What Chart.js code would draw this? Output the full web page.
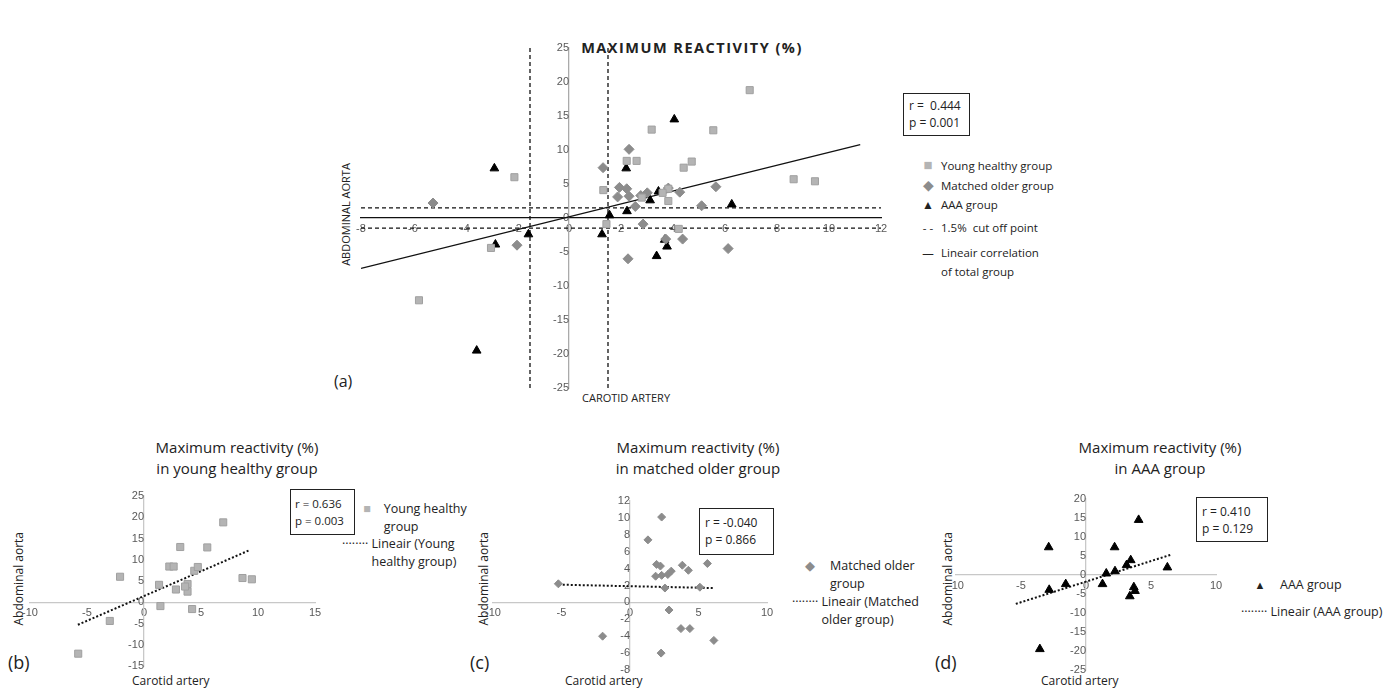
<!DOCTYPE html>
<html><head><meta charset="utf-8">
<script src="https://cdn.jsdelivr.net/npm/chart.js@4"></script>
<style>
body{margin:0;background:#fff;width:1390px;height:688px;position:relative;overflow:hidden;font-family:"Open Sans",sans-serif;color:#222}
.t{position:absolute;white-space:nowrap}
canvas{position:absolute}
.box{position:absolute;border:1.5px solid #222;font-size:12px;line-height:17px;padding:3px 5px;box-sizing:border-box;white-space:nowrap}
.rot{position:absolute;transform:rotate(-90deg);transform-origin:center;white-space:nowrap}
.ttl{position:absolute;text-align:center;font-size:15px;line-height:21px;transform:translateX(-50%);white-space:nowrap}
.m{display:inline-block;width:14px;text-align:center}
</style></head><body>
<div class="t" style="left:692px;top:38px;transform:translateX(-50%);font-weight:bold;font-size:14.5px;letter-spacing:1.5px">MAXIMUM REACTIVITY (%)</div>
<div class="rot" style="left:290px;top:207px;width:110px;text-align:center;font-size:11px">ABDOMINAL AORTA</div>
<div class="t" style="left:582px;top:390px;font-size:11px">CAROTID ARTERY</div>
<div class="t" style="left:334px;top:370px;font-size:16px">(a)</div>
<div class="box" style="left:903px;top:93px;width:67px;height:43px">r =&nbsp; 0.444<br>p = 0.001</div>
<div class="t" style="left:921px;top:155px;font-size:11.5px;line-height:19px">
<div><span class="m" style="color:#b4b4b4;font-size:15px">■</span>&nbsp; Young healthy group</div>
<div><span class="m" style="color:#8c8c8c;font-size:14px">◆</span>&nbsp; Matched older group</div>
<div><span class="m" style="font-size:12px">▲</span>&nbsp; AAA group</div>
<div style="margin-top:4px"><span class="m">- -</span>&nbsp; 1.5%&nbsp; cut off point</div>
<div style="margin-top:6px"><span class="m">—</span>&nbsp; Lineair correlation<br><span class="m"></span>&nbsp; of total group</div>
</div>

<div class="ttl" style="left:237px;top:437px">Maximum reactivity (%)<br>in young healthy group</div>
<div class="ttl" style="left:698px;top:437px">Maximum reactivity (%)<br>in matched older group</div>
<div class="ttl" style="left:1160px;top:437px">Maximum reactivity (%)<br>in AAA group</div>
<div class="rot" style="left:-27px;top:572px;width:90px;text-align:center;font-size:12px">Abdominal aorta</div>
<div class="rot" style="left:438px;top:572px;width:90px;text-align:center;font-size:12px">Abdominal aorta</div>
<div class="rot" style="left:902px;top:572px;width:90px;text-align:center;font-size:12px">Abdominal aorta</div>
<div class="t" style="left:132px;top:672px;font-size:12px">Carotid artery</div>
<div class="t" style="left:565px;top:672px;font-size:12px">Carotid artery</div>
<div class="t" style="left:1041px;top:672px;font-size:12px">Carotid artery</div>
<div class="t" style="left:8px;top:650px;font-size:18px">(b)</div>
<div class="t" style="left:470px;top:650px;font-size:18px">(c)</div>
<div class="t" style="left:935px;top:650px;font-size:18px">(d)</div>
<div class="box" style="left:290px;top:489px;width:65px;height:46px;padding:5px 4px 3px;font-size:11.5px">r = 0.636<br>p = 0.003</div>
<div class="box" style="left:699px;top:508px;width:75px;height:47px;padding-top:5px">r = -0.040<br>p = 0.866</div>
<div class="box" style="left:1196px;top:497px;width:72px;height:45px;padding-top:5px">r = 0.410<br>p = 0.129</div>
<div class="t" style="left:360px;top:500px;font-size:12.5px;line-height:18px"><span class="m" style="color:#b4b4b4">■</span>&nbsp;&nbsp; Young healthy<br><span class="m"></span>&nbsp;&nbsp; group</div>
<div class="t" style="left:342px;top:535px;font-size:12.5px;line-height:18px">········ Lineair (Young<br><span style="visibility:hidden">········ </span>healthy group)</div>
<div class="t" style="left:803px;top:557px;font-size:12.5px;line-height:18px"><span class="m" style="color:#8c8c8c">◆</span>&nbsp;&nbsp;&nbsp; Matched older<br><span class="m"></span>&nbsp;&nbsp;&nbsp; group</div>
<div class="t" style="left:792px;top:593px;font-size:12.5px;line-height:18px">········ Lineair (Matched<br><span style="visibility:hidden">········ </span>older group)</div>
<div class="t" style="left:1253px;top:576px;font-size:12.5px"><span class="m" style="font-size:11px">▲</span>&nbsp;&nbsp;&nbsp; AAA group</div>
<div class="t" style="left:1241px;top:603px;font-size:12.5px">········ Lineair (AAA group)</div>

<canvas id="ca"></canvas><canvas id="cb"></canvas><canvas id="cc"></canvas><canvas id="cd"></canvas>
<script>
const youngX=[6.95,3.18,5.55,2.22,2.6,4.41,4.72,-2.1,8.64,9.46,1.32,3.82,3.82,1.44,4.22,-3.0,-5.77,2.8,3.6];
const youngY=[18.8,13.0,12.9,8.4,8.4,7.4,8.3,6.0,5.7,5.4,4.1,4.3,2.5,-0.9,-1.6,-4.4,-12.1,3.0,3.7];
const matchedX=[-5.23,1.31,2.31,1.94,2.22,1.87,2.31,2.76,3.01,3.82,4.26,5.65,2.55,5.1,2.85,3.72,4.37,-2.0,2.27,6.12];
const matchedY=[2.2,7.4,10.1,4.5,4.3,3.1,3.2,3.3,3.7,4.4,3.8,4.6,1.7,1.8,-0.9,-3.1,-3.1,-4.0,-6.0,-4.5];
const aaaX=[-2.87,2.2,4.05,3.44,3.12,6.26,1.56,2.23,-1.56,1.27,-2.83,3.68,3.77,3.37,-3.55];
const aaaY=[7.3,7.3,14.5,3.9,2.6,2.0,0.4,1.0,-2.4,-2.4,-3.9,-3.2,-4.2,-5.6,-19.5];
const totalFitX=[-8,11.2], totalFitY=[-7.4,10.8];
const youngFitX=[-5.8,9.3], youngFitY=[-5.3,12.3];
const matchedFitX=[-5.2,6.1], matchedFitY=[2.1,1.7];
const aaaFitX=[-5.4,6.5], aaaFitY=[-7.6,5.3];
const cutoff=1.5;

const pts=(xs,ys)=>xs.map((x,i)=>({x,y:ys[i]}));
const sq={pointStyle:'rect',pointRadius:5,backgroundColor:'#b4b4b4',borderColor:'#a0a0a0',borderWidth:1};
const di={pointStyle:'rectRot',pointRadius:5,backgroundColor:'#8c8c8c',borderColor:'#8c8c8c',borderWidth:1};
const tr={pointStyle:'triangle',pointRadius:5,backgroundColor:'#000',borderColor:'#000',borderWidth:1};
const line=(xs,ys,dash,w)=>({type:'line',data:pts(xs,ys),borderColor:'#111',borderWidth:w||1.3,borderDash:dash||[],pointRadius:0,fill:false,showLine:true});
const PAD=25;
function mk(id,L,T,W,H,xr,yr,ds,axisCol,xCol,font){
  const c=document.getElementById(id);
  c.width=W+2*PAD;c.height=H+2*PAD;
  c.style.left=(L-PAD)+'px';c.style.top=(T-PAD)+'px';
  c.style.width=(W+2*PAD)+'px';c.style.height=(H+2*PAD)+'px';
  new Chart(c,{type:'scatter',data:{datasets:ds},options:{responsive:false,animation:false,
    devicePixelRatio:1,layout:{padding:PAD},plugins:{legend:{display:false},tooltip:{enabled:false}},
    scales:{
      x:{type:'linear',min:xr[0],max:xr[1],position:{y:0},grid:{display:false,drawTicks:false},border:{color:xCol,width:1.3},
         ticks:{stepSize:xr[2],color:'#595959',font:{size:font},padding:4}},
      y:{type:'linear',min:yr[0],max:yr[1],position:{x:0},grid:{display:false,drawTicks:false},border:{color:axisCol,width:1.3},
         ticks:{stepSize:yr[2],color:'#595959',font:{size:font},padding:6}}
    }}});
}
mk('ca',361,48,520,340,[-8,12,2],[-25,25,5],[
  {data:pts(youngX,youngY),...sq},{data:pts(matchedX,matchedY),...di},{data:pts(aaaX,aaaY),...tr},
  line([-cutoff,-cutoff],[-25,25],[4,3]),line([cutoff,cutoff],[-25,25],[4,3]),
  line([-8,12],[cutoff,cutoff],[4,3]),line([-8,12],[-cutoff,-cutoff],[4,3]),
  line(totalFitX,totalFitY,[],1.3)
],'#aaa','#111',11);
mk('cb',30,496,285,170,[-10,15,5],[-15,25,5],[{data:pts(youngX,youngY),...sq},line(youngFitX,youngFitY,[2,2],2)],'#c8c8c8','#c8c8c8',11);
mk('cc',493,501,274,169,[-10,10,5],[-8,12,2],[{data:pts(matchedX,matchedY),...di,pointRadius:4},line(matchedFitX,matchedFitY,[2,2],2)],'#c8c8c8','#c8c8c8',11);
mk('cd',956,499,260,171,[-10,10,5],[-25,20,5],[{data:pts(aaaX,aaaY),...tr},line(aaaFitX,aaaFitY,[2,2],2)],'#c8c8c8','#c8c8c8',11);
</script></body></html>
